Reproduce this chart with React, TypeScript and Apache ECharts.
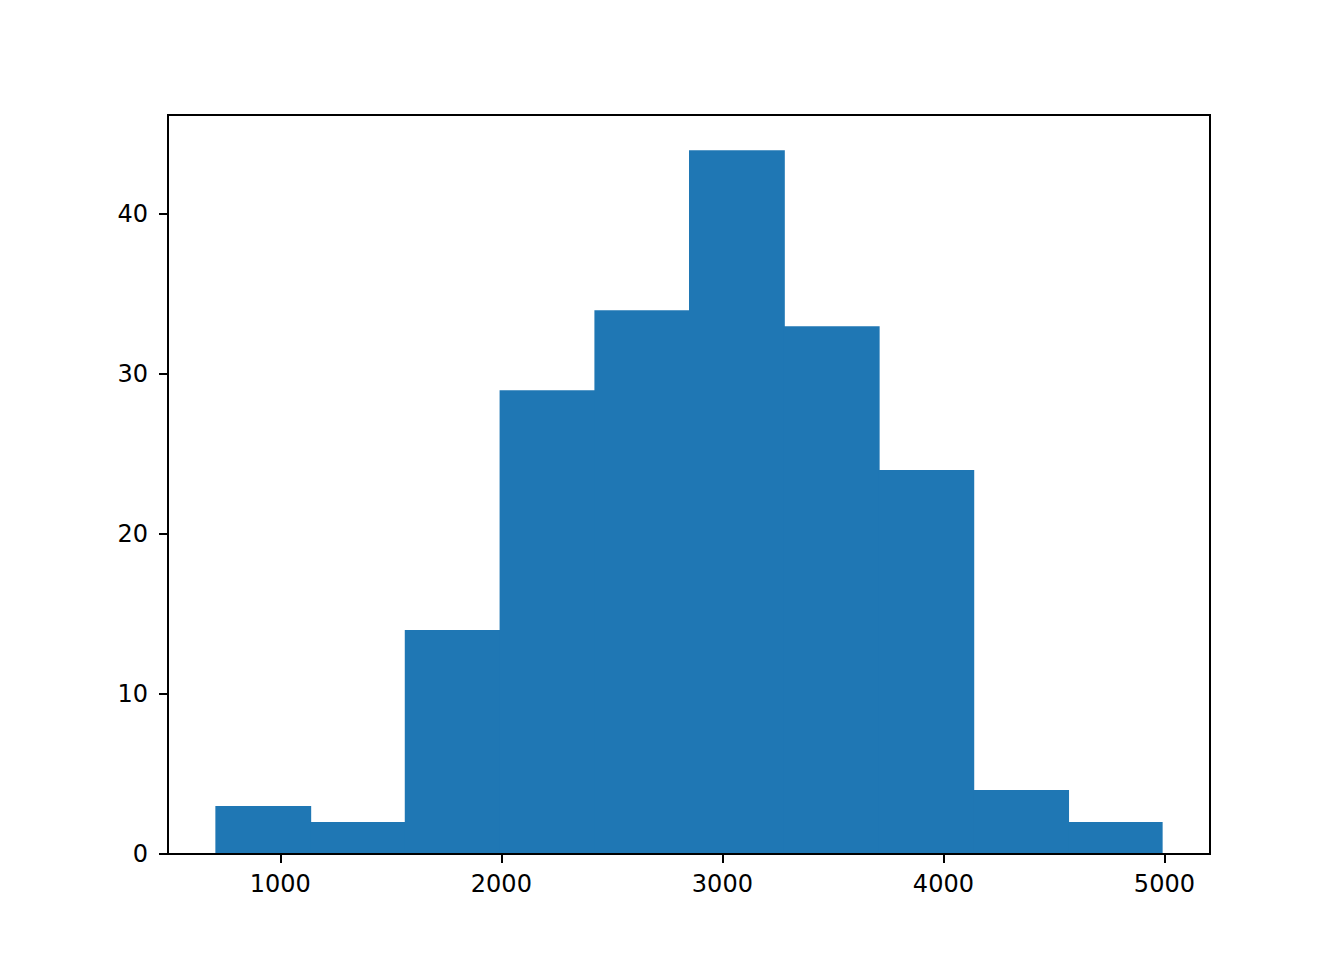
import React, { useEffect, useRef } from "react";
import * as echarts from "echarts";

const binEdges = [706, 1135, 1563, 1992, 2421, 2849, 3278, 3707, 4135, 4564, 4992];
const binCounts = [3, 2, 14, 29, 34, 44, 33, 24, 4, 2];
const xTicks = [1000, 2000, 3000, 4000, 5000];
const yTicks = [0, 10, 20, 30, 40];

export default function App() {
  const ref = useRef<HTMLDivElement>(null);
  useEffect(() => {
    const chart = echarts.init(ref.current!, null, { renderer: "svg" });
    const data = binCounts.map((c, i) => [binEdges[i], binEdges[i + 1], c]);
    const span = binEdges[binEdges.length - 1] - binEdges[0];
    const yMax = Math.max(...binCounts) * 1.05;
    const font = "DejaVu Sans";
    const last = binCounts.length - 1;
    chart.setOption({
      animation: false,
      backgroundColor: "#ffffff",
      grid: {
        left: 168,
        right: 134,
        top: 115,
        bottom: 106,
        show: true,
        borderColor: "#000000",
        borderWidth: 2,
        backgroundColor: "transparent",
        z: 10,
      },
      xAxis: {
        type: "value",
        min: binEdges[0] - span * 0.05,
        max: binEdges[binEdges.length - 1] + span * 0.05,
        splitLine: { show: false },
        axisLine: { show: false },
        axisTick: {
          show: true,
          inside: false,
          length: 9,
          lineStyle: { color: "#000", width: 2 },
          customValues: xTicks,
        },
        axisLabel: {
          customValues: xTicks,
          formatter: (v: number) => String(v),
          color: "#000",
          fontFamily: font,
          fontSize: 24,
          margin: 18,
        },
      },
      yAxis: {
        type: "value",
        min: 0,
        max: yMax,
        splitLine: { show: false },
        axisLine: { show: false },
        axisTick: {
          show: true,
          inside: false,
          length: 9,
          lineStyle: { color: "#000", width: 2 },
          customValues: yTicks,
        },
        axisLabel: {
          customValues: yTicks,
          formatter: (v: number) => String(v),
          color: "#000",
          fontFamily: font,
          fontSize: 24,
          margin: 20,
        },
      },
      series: [
        {
          type: "custom",
          data,
          encode: { x: [0, 1], y: 2 },
          renderItem: (params: any, api: any) => {
            const x0 = api.value(0);
            const x1 = api.value(1);
            const c = api.value(2);
            const p0 = api.coord([x0, c]);
            const p1 = api.coord([x1, 0]);
            const extra = params.dataIndex < last ? 1 : 0;
            return {
              type: "rect",
              shape: { x: p0[0], y: p0[1], width: p1[0] - p0[0] + extra, height: p1[1] - p0[1] },
              style: { fill: "#1f77b4" },
            };
          },
        },
      ],
    });
    return () => chart.dispose();
  }, []);
  return (
    <div
      ref={ref}
      style={{ position: "fixed", left: 0, top: 0, width: 1344, height: 960 }}
    />
  );
}
